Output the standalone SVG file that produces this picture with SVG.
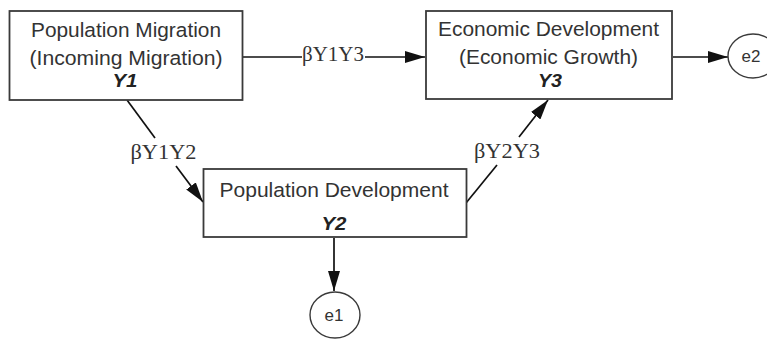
<svg xmlns="http://www.w3.org/2000/svg" width="767" height="341" viewBox="0 0 767 341">
<style>
.box{fill:#fff;stroke:#3a3a3a;stroke-width:1.8}
.ell{fill:#fff;stroke:#3a3a3a;stroke-width:1.4}
.t{font-family:"Liberation Sans",Arial,sans-serif;font-size:20.5px;fill:#333;text-anchor:middle}
.y{font-family:"Liberation Sans",Arial,sans-serif;font-size:18px;font-weight:bold;font-style:italic;fill:#222;text-anchor:middle}
.e{font-family:"Liberation Sans",Arial,sans-serif;font-size:17px;fill:#333;text-anchor:middle}
.b{font-family:"Liberation Serif","Times New Roman",serif;font-size:22px;fill:#333;text-anchor:middle}
.c{stroke:#111;stroke-width:1.7;fill:none}
</style>
<defs>
<marker id="ah" markerUnits="userSpaceOnUse" markerWidth="20" markerHeight="12" refX="20" refY="6" orient="auto">
<path d="M0,0 L20,6 L0,12 z" fill="#111"/>
</marker>
</defs>
<rect width="767" height="341" fill="#fff"/>
<g id="connectors">
<line class="c" x1="243" y1="57" x2="302" y2="57"/>
<line class="c" x1="365" y1="57" x2="425" y2="57" marker-end="url(#ah)"/>
<text class="b" x="333" y="61" textLength="62" lengthAdjust="spacingAndGlyphs">βY1Y3</text>
<line class="c" x1="127" y1="100" x2="155" y2="138"/>
<line class="c" x1="176" y1="166" x2="203" y2="202" marker-end="url(#ah)"/>
<text class="b" x="163.5" y="159" textLength="66" lengthAdjust="spacingAndGlyphs">βY1Y2</text>
<line class="c" x1="466" y1="203" x2="497" y2="165"/>
<line class="c" x1="519" y1="137" x2="548" y2="100" marker-end="url(#ah)"/>
<text class="b" x="507" y="158" textLength="66" lengthAdjust="spacingAndGlyphs">βY2Y3</text>
<line class="c" x1="334" y1="238" x2="334" y2="291" marker-end="url(#ah)"/>
<line class="c" x1="673" y1="57" x2="728" y2="57" marker-end="url(#ah)"/>
</g>
<g id="Y1">
<rect class="box" x="9.5" y="11" width="233" height="89"/>
<text class="t" x="126" y="37" textLength="190" lengthAdjust="spacingAndGlyphs">Population Migration</text>
<text class="t" x="126" y="64.5" textLength="193" lengthAdjust="spacingAndGlyphs">(Incoming Migration)</text>
<text class="y" x="125" y="87" textLength="25" lengthAdjust="spacingAndGlyphs">Y1</text>
</g>
<g id="Y3">
<rect class="box" x="426" y="11" width="246" height="88"/>
<text class="t" x="548.5" y="36" textLength="221" lengthAdjust="spacingAndGlyphs">Economic Development</text>
<text class="t" x="548.5" y="63.5" textLength="179" lengthAdjust="spacingAndGlyphs">(Economic Growth)</text>
<text class="y" x="550" y="87" textLength="24" lengthAdjust="spacingAndGlyphs">Y3</text>
</g>
<g id="Y2">
<rect class="box" x="203.5" y="169" width="263" height="68"/>
<text class="t" x="334" y="197" textLength="229" lengthAdjust="spacingAndGlyphs">Population Development</text>
<text class="y" x="334" y="229.5" textLength="25" lengthAdjust="spacingAndGlyphs">Y2</text>
</g>
<g id="e1">
<ellipse class="ell" cx="335" cy="315" rx="25" ry="23"/>
<text class="e" x="334" y="321">e1</text>
</g>
<g id="e2">
<ellipse class="ell" cx="753" cy="56" rx="25" ry="22"/>
<text class="e" x="751" y="62">e2</text>
</g>
</svg>
